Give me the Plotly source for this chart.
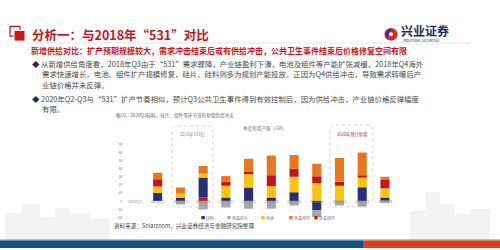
import plotly.graph_objects as go

categories = ["2018Q1", "2018Q2", "2018Q3", "2018Q4", "2019Q1", "2019Q2",
              "2019Q3", "2019Q4", "2020Q1", "2020Q2", "2020Q3", "2020Q4"]
other_red = [0, 0, 0, 4.6, 0, 0, 0, 0, 0, 0, 0, 0]
silicon = [0, 10, 3.9, 24.7, 4.6, 16.7, 4.6, 11, -11, 0, 17.2, 4.6]
wafer = [0, 0, -4.2, -10.3, -8, -9.5, -9.5, -5.5, -9.2, -5.5, -7, -2]
cell = [0, 8, 5.2, 4.8, 14.5, 16.6, 14.2, 19, 22, 19, 12.8, 11.4]
module_poly = [0, 9, 0, 0, 5, 2.8, 13.3, 10, 8.8, 4.8, 2, 10]
module_mono = [0, 8, 7.6, 9.2, 7, 16.2, 24.2, 17, 15.4, 29.6, 28.2, 4]
ytick_vals = [-20, -10, 0, 10, 20, 30, 40, 50, 60, 70]

NAVY = "#2b2c7c"
GREY = "#a6a6a6"
YELLOW = "#f8c414"
RED = "#c3161c"
ORANGE = "#e8771e"
SLIDE_RED = "#c8161d"

W, H = 500, 250
def px(x):
    return x / W
def py(y):
    return 1 - y / H

fig = go.Figure()
series = [
    ("其他", other_red, RED),
    ("硅料", silicon, NAVY),
    ("单晶硅片", wafer, GREY),
    ("电池", cell, YELLOW),
    ("多晶组件", module_poly, RED),
    ("单晶组件", module_mono, ORANGE),
]
for name, vals, col in series:
    fig.add_trace(go.Bar(x=categories, y=vals, name=name, marker_color=col,
                         marker_line_width=0, showlegend=False))

dom_y = [py(218.5), py(144)]
zero_frac = (0 - (-20)) / 90
pos = dom_y[0] + (dom_y[1] - dom_y[0]) * zero_frac + 3 / H

fig.update_layout(
    width=W, height=H, margin=dict(l=0, r=0, t=0, b=0),
    paper_bgcolor="white", plot_bgcolor="rgba(0,0,0,0)",
    barmode="relative", bargap=0.6,
    font=dict(family="Noto Sans CJK SC", color="#333"),
    xaxis=dict(domain=[px(123.6), px(396.3)], anchor="free", position=pos,
               showgrid=False, showline=False, ticks="",
               tickfont=dict(size=4, color="#8a8a8a"), tickangle=0),
    yaxis=dict(domain=dom_y, range=[-20, 70], tickvals=ytick_vals,
               showgrid=False, zeroline=False, showline=False, ticks="",
               tickfont=dict(size=4, color="#8a8a8a")),
)

shapes = []
# background skyline
for (x0, x1, top) in [(5, 22, 214), (22, 40, 205), (40, 55, 218), (55, 70, 209),
                      (70, 90, 215), (90, 110, 220), (410, 425, 212), (425, 440, 193),
                      (440, 455, 205), (455, 470, 215), (470, 490, 210)]:
    shapes.append(dict(type="rect", xref="paper", yref="paper", x0=px(x0), x1=px(x1),
                       y0=py(242), y1=py(top), fillcolor="#f3f3f3", line_width=0, layer="below"))
# bottom bands
shapes.append(dict(type="rect", xref="paper", yref="paper", x0=0, x1=px(363), y0=0, y1=py(242),
                   fillcolor="#134f86", line_width=0))
shapes.append(dict(type="rect", xref="paper", yref="paper", x0=px(363), x1=1, y0=0, y1=py(242),
                   fillcolor="#e53b1d", line_width=0))
shapes.append(dict(type="line", xref="paper", yref="paper", x0=0, x1=1, y0=py(241.5), y1=py(241.5),
                   line=dict(color="#9dbad6", width=1)))
# title icon
shapes.append(dict(type="rect", xref="paper", yref="paper", x0=px(10), x1=px(20), y0=py(33), y1=py(23),
                   line=dict(color=SLIDE_RED, width=1.2), fillcolor="rgba(0,0,0,0)"))
shapes.append(dict(type="rect", xref="paper", yref="paper", x0=px(14), x1=px(25), y0=py(38), y1=py(27),
                   fillcolor=SLIDE_RED, line=dict(color="white", width=1)))
# header line
shapes.append(dict(type="line", xref="paper", yref="paper", x0=px(28), x1=px(470), y0=py(40), y1=py(40),
                   line=dict(color="#dddddd", width=0.8)))
# logo
shapes.append(dict(type="circle", xref="paper", yref="paper", x0=px(384.5), x1=px(397.5),
                   y0=py(37.5), y1=py(24.5), fillcolor="#d7262b", line_width=0))
shapes.append(dict(type="path", xref="paper", yref="paper",
                   path=f"M {px(391)},{py(24.5)} Q {px(383)},{py(28)} {px(386)},{py(35)} "
                        f"Q {px(390)},{py(31)} {px(391)},{py(24.5)} Z",
                   fillcolor="#1f3b8a", line_width=0))
shapes.append(dict(type="circle", xref="paper", yref="paper", x0=px(389), x1=px(393),
                   y0=py(33), y1=py(29), fillcolor="white", line_width=0))

def rrect(x0, y0, x1, y1, r):
    rx, ry = r / W, r / H
    X0, X1, Y0, Y1 = px(x0), px(x1), py(y0), py(y1)
    return (f"M {X0+rx},{Y0} L {X1-rx},{Y0} Q {X1},{Y0} {X1},{Y0-ry} "
            f"L {X1},{Y1+ry} Q {X1},{Y1} {X1-rx},{Y1} L {X0+rx},{Y1} "
            f"Q {X0},{Y1} {X0},{Y1+ry} L {X0},{Y0-ry} Q {X0},{Y0} {X0+rx},{Y0} Z")

for (a, b, c, d) in [(172, 125, 213, 208), (330, 124, 373, 208)]:
    shapes.append(dict(type="path", xref="paper", yref="paper", path=rrect(a, b, c, d, 6),
                       line=dict(color="#c8c8c8", width=0.8, dash="dot"), layer="above"))

fig.update_layout(shapes=shapes)

ann = []
def text(x, y, t, size, color="#333", anchor="left", bold=False, family="Noto Sans CJK SC"):
    if bold:
        t = f"<b>{t}</b>"
    ann.append(dict(x=px(x), y=py(y), xref="paper", yref="paper", text=t, showarrow=False,
                    xanchor=anchor, yanchor="middle", borderpad=0,
                    font=dict(size=size, color=color, family=family)))

text(31, 31, "分析一：与2018年“531”对比", 12.5, SLIDE_RED, bold=True)
text(400, 27, "兴业证券", 12, "#1c2a5e", bold=True)
text(402, 37, "INDUSTRIAL SECURITIES", 3.2, "#1c2a5e")
text(30, 48, "新增供给对比：扩产预期规模较大，需求冲击结束后或有供给冲击，公共卫生事件结束后价格修复空间有限",
     8, SLIDE_RED, bold=True)
bullet = '<span style="color:#1c2a5e">◆</span> '
FS = 7.4
TC = "#4a4a4a"
text(31, 61, bullet + "从新增供给角度看，2018年Q3由于“531”需求骤降，产业链盈利下滑，电池及组件等产能扩张减缓，2018年Q4海外", FS, TC)
text(41, 71.5, "需求快速增长，电池、组件扩产规模修复，硅片、硅料则多为规划产能投放。正因为Q4供给冲击，导致需求转暖后产", FS, TC)
text(41, 82, "业链价格并未反弹。", FS, TC)
text(31, 96.5, bullet + "2020年Q2-Q3与“531”扩产节奏相似，预计Q3公共卫生事件得到有效控制后，因为供给冲击，产业链价格反弹幅度", FS, TC)
text(41, 107, "有限。", FS, TC)
text(115, 114, "图10、2020Q3硅料、硅片、组件等环节或有新增供给冲击", 4.6, "#666")
text(265, 127.5, "季度新增产能（GW）", 4.6, "#777", anchor="center")
text(192.5, 134, "2018年531后", 4.2, "#888", anchor="center")
text(351.5, 134, "2020年预计新增", 4.2, "#b03040", anchor="center")
text(113, 227, "资料来源：Solarzoom，兴业证券经济与金融研究院整理", 5.6, "#444")

legend_items = [(200, "硅料", NAVY), (226, "单晶硅片", GREY), (260, "电池", YELLOW),
                (288, "单晶组件", ORANGE), (313, "多晶组件", RED)]
for x, name, col in legend_items:
    text(x, 219, f'<span style="color:{col}">■</span> {name}', 4, "#777")

fig.update_layout(annotations=ann)
fig.write_html("out.html")
